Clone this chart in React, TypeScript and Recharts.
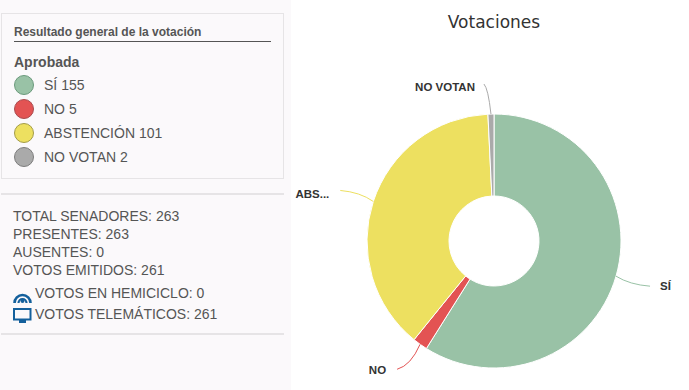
import React from "react";
import { PieChart, Pie, Cell } from "recharts";

const categories = ["SÍ", "NO", "ABSTENCIÓN", "NO VOTAN"];
const chartLabels = ["SÍ", "NO", "ABS...", "NO VOTAN"];
const votes = [155, 5, 101, 2];
const colors = ["#99c2a6", "#e35353", "#ede060", "#aaaaaa"];
const legendBorders = ["#6b9a7c", "#a94b4e", "#a39c48", "#7d7d7d"];
const stats = ["TOTAL SENADORES: 263", "PRESENTES: 263", "AUSENTES: 0", "VOTOS EMITIDOS: 261"];
const connectorEnds = [[34, 10], [-23, 25], [-33, -11], [-7, -30]];
const labelAnchors = ["start", "end", "end", "end"];
const labelOffsets = [[10, 4], [-11, 5], [-11, 8], [-9, 7]];

const data = categories.map((name, i) => ({ name, value: votes[i] }));
const textColor = "#555555";
const sans = "Arial, 'Liberation Sans', sans-serif";

function edge(p: any) {
  const a = (-p.midAngle * Math.PI) / 180;
  return [p.cx + p.outerRadius * Math.cos(a), p.cy + p.outerRadius * Math.sin(a)];
}

function SliceLabel(p: any) {
  const [x, y] = edge(p);
  const [dx, dy] = connectorEnds[p.index];
  const [ox, oy] = labelOffsets[p.index];
  return (
    <text x={x + dx + ox} y={y + dy + oy} textAnchor={labelAnchors[p.index]} fontFamily={sans} fontSize={11.5} fontWeight={700} fill="#333333">
      {chartLabels[p.index]}
    </text>
  );
}

function SliceLine(p: any) {
  const [x, y] = edge(p);
  const [dx, dy] = connectorEnds[p.index];
  const path = `M${x} ${y} Q${x + dx * 0.4} ${y + dy * 0.85} ${x + dx} ${y + dy}`;
  return <path d={path} fill="none" stroke={colors[p.index]} strokeWidth={1} />;
}

function LegendRow({ i }: { i: number }) {
  return (
    <div style={{ display: "flex", alignItems: "center", height: 24 }}>
      <span style={{ width: 18, height: 18, borderRadius: "50%", background: colors[i], border: `1px solid ${legendBorders[i]}`, marginRight: 10, flex: "none" }} />
      <span>{categories[i]} {votes[i]}</span>
    </div>
  );
}

export default function App() {
  return (
    <div style={{ position: "absolute", left: 0, top: 0, width: 689, height: 390, background: "#ffffff", overflow: "hidden", fontFamily: sans, color: textColor }}>
      <div style={{ position: "absolute", left: 0, top: 0, width: 291, height: 390, background: "#fbf9fb" }} />
      <div style={{ position: "absolute", left: 1, top: 13, width: 283, height: 166, border: "1px solid #e6e4e6", boxSizing: "border-box" }}>
        <div style={{ position: "absolute", left: 12, top: 11, width: 257, height: 16, borderBottom: "1px solid #555", boxSizing: "content-box", fontSize: 12, fontWeight: 700, lineHeight: "14px" }}>Resultado general de la votación</div>
        <div style={{ position: "absolute", left: 12, top: 39, fontSize: 14, fontWeight: 700, lineHeight: "18px" }}>Aprobada</div>
        <div style={{ position: "absolute", left: 12, top: 59, fontSize: 14 }}>
          {categories.map((_, i) => <LegendRow key={i} i={i} />)}
        </div>
      </div>
      <div style={{ position: "absolute", left: 1, top: 193, width: 283, height: 2, background: "#e6e4e6" }} />
      <div style={{ position: "absolute", left: 13, top: 207, fontSize: 14, lineHeight: "18px" }}>
        {stats.map((s) => <div key={s}>{s}</div>)}
      </div>
      <svg style={{ position: "absolute", left: 13, top: 287 }} width={19} height={17} viewBox="0 0 19 17">
        <path d="M1.5 16 A8 8 0 0 1 17.5 16" fill="none" stroke="#14609c" strokeWidth={2.6} />
        <path d="M5.5 16 A4 4 0 0 1 13.5 16" fill="none" stroke="#14609c" strokeWidth={2.2} />
        <circle cx={9.5} cy={14} r={2} fill="#14609c" />
      </svg>
      <div style={{ position: "absolute", left: 35, top: 284, fontSize: 14, lineHeight: "18px" }}>VOTOS EN HEMICICLO: 0</div>
      <svg style={{ position: "absolute", left: 13, top: 308 }} width={19} height={16} viewBox="0 0 19 16">
        <rect x={1} y={1} width={16.5} height={10.5} fill="none" stroke="#14609c" strokeWidth={2} />
        <rect x={6} y={12} width={7} height={3} fill="#14609c" />
      </svg>
      <div style={{ position: "absolute", left: 35, top: 305, fontSize: 14, lineHeight: "18px" }}>VOTOS TELEMÁTICOS: 261</div>
      <div style={{ position: "absolute", left: 1, top: 333, width: 283, height: 2, background: "#e6e4e6" }} />
      <div style={{ position: "absolute", left: 0, top: 0 }}>
        <PieChart width={689} height={390} margin={{ top: 0, right: 0, bottom: 0, left: 0 }}>
          <text x={494} y={28} textAnchor="middle" fontFamily="'DejaVu Sans', Verdana, sans-serif" fontSize={17} fill="#333333">Votaciones</text>
          <Pie
            data={data}
            dataKey="value"
            nameKey="name"
            cx={494}
            cy={241}
            innerRadius={45}
            outerRadius={127}
            startAngle={90}
            endAngle={-270}
            paddingAngle={0}
            stroke="#ffffff"
            strokeWidth={1}
            isAnimationActive={false}
            label={SliceLabel}
            labelLine={SliceLine}
          >
            {data.map((d, i) => <Cell key={d.name} fill={colors[i]} />)}
          </Pie>
        </PieChart>
      </div>
    </div>
  );
}
